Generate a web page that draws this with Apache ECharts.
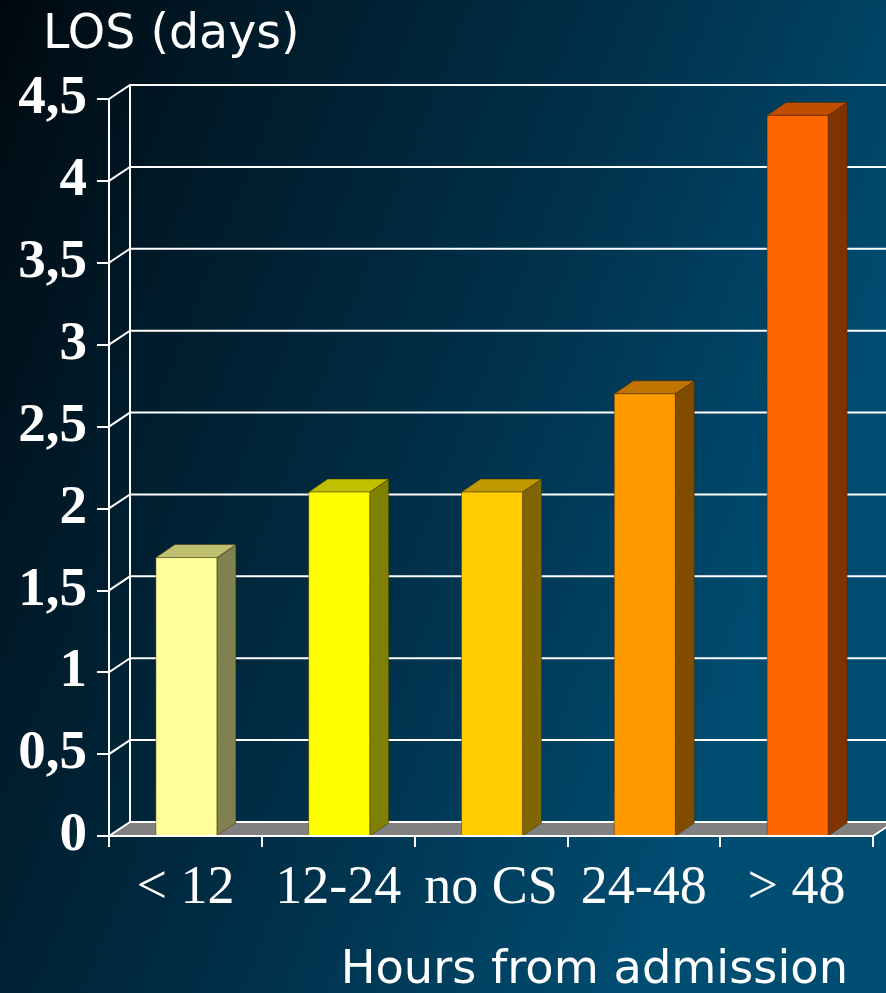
<!DOCTYPE html>
<html>
<head>
<meta charset="utf-8">
<script src="https://cdn.jsdelivr.net/npm/echarts@6/dist/echarts.min.js"></script>
<style>
html,body{margin:0;padding:0;background:#001a28;}
#chart{width:886px;height:993px;}
</style>
</head>
<body>
<div id="chart"></div>
<script>
// ---- data ----
const categories = ['< 12', '12-24', 'no CS', '24-48', '> 48'];
const losDays = [1.7, 2.1, 2.1, 2.7, 4.4];
const yTicks = [0, 0.5, 1, 1.5, 2, 2.5, 3, 3.5, 4, 4.5];
const yAxisTitle = 'LOS (days)';
const xAxisTitle = 'Hours from admission';

// ---- styles ----
const frontColors = ['#FFFF99', '#FFFF00', '#FFCC00', '#FF9900', '#FF6600'];
const topColors   = ['#C0C073', '#C0C000', '#C09900', '#C07300', '#C04D00'];
const sideColors  = ['#808050', '#808000', '#806600', '#804C00', '#803300'];
const DX = 21, DY = 14;        // wall depth
const BDX = 19, BDY = 13;      // bar depth
const BAR_W = 61;

const chart = echarts.init(document.getElementById('chart'));

const option = {
  backgroundColor: {
    type: 'linear', x: 0, y: 0, x2: 1, y2: 0.35,
    colorStops: [
      {offset: 0, color: '#00070c'},
      {offset: 0.08, color: '#000f18'},
      {offset: 0.3, color: '#001d2d'},
      {offset: 0.6, color: '#002f48'},
      {offset: 1, color: '#004d72'}
    ]
  },
  animation: false,
  title: [
    {text: yAxisTitle, left: 38, top: 7,
     textStyle: {color: '#ffffff', fontFamily: 'DejaVu Sans', fontWeight: 'normal', fontSize: 47.5}},
    {text: xAxisTitle, right: 33, top: 943,
     textStyle: {color: '#ffffff', fontFamily: 'DejaVu Sans', fontWeight: 'normal', fontSize: 46.3}}
  ],
  grid: {left: 109, right: 13, top: 99, bottom: 157, containLabel: false},
  xAxis: {
    type: 'category',
    data: categories,
    boundaryGap: true,
    axisLine: {show: true, lineStyle: {color: '#ffffff', width: 2}},
    axisTick: {show: true, length: 11, alignWithLabel: false, lineStyle: {color: '#ffffff', width: 2}},
    axisLabel: {color: '#ffffff', fontFamily: 'Liberation Serif', fontSize: 54, margin: 26, interval: 0},
    splitLine: {show: false},
    z: 5
  },
  yAxis: {
    type: 'value',
    min: 0, max: 4.5, interval: 0.5,
    axisLine: {show: true, lineStyle: {color: '#ffffff', width: 2}},
    axisTick: {show: true, length: 12, inside: false, lineStyle: {color: '#ffffff', width: 2}},
    axisLabel: {
      color: '#ffffff', fontFamily: 'Liberation Serif', fontWeight: 'bold', fontSize: 55, margin: 22,
      formatter: v => String(v).replace('.', ',')
    },
    splitLine: {show: false},
    z: 5
  },
  series: [
    {
      type: 'custom',
      z: 1,
      silent: true,
      data: yTicks.map(v => [0, v]),
      renderItem: function (params, api) {
        const cs = params.coordSys;
        const L = cs.x, R = cs.x + cs.width;
        const v = api.value(1);
        const y = api.coord([0, v])[1];
        const children = [];
        if (v === 0) {
          children.push({
            type: 'polygon',
            shape: {points: [[L, y], [L + DX, y - DY], [R + DX, y - DY], [R, y]]},
            style: {fill: '#808080', stroke: null}
          });
          children.push({
            type: 'line',
            shape: {x1: R, y1: y, x2: R + DX, y2: y - DY},
            style: {stroke: '#ffffff', lineWidth: 2}
          });
          const yt = api.coord([0, yTicks[yTicks.length - 1]])[1];
          children.push({
            type: 'line',
            shape: {x1: L + DX, y1: y - DY, x2: L + DX, y2: yt - DY},
            style: {stroke: '#ffffff', lineWidth: 2}
          });
        }
        children.push({
          type: 'polyline',
          shape: {points: [[L, y], [L + DX, y - DY], [R + DX, y - DY]]},
          style: {stroke: '#ffffff', lineWidth: 2, fill: null}
        });
        return {type: 'group', children: children};
      }
    },
    {
      type: 'custom',
      z: 3,
      data: losDays.map((v, i) => [i, v]),
      renderItem: function (params, api) {
        const i = api.value(0);
        const v = api.value(1);
        const top = api.coord([i, v]);
        const base = api.coord([i, 0]);
        const x0 = top[0] - BAR_W / 2 + 1;
        const x1 = x0 + BAR_W;
        const yt = top[1], yb = base[1];
        const edge = 'rgba(60,40,0,0.45)';
        return {
          type: 'group',
          children: [
            {type: 'polygon',
             shape: {points: [[x1, yt], [x1 + BDX, yt - BDY], [x1 + BDX, yb - BDY], [x1, yb]]},
             style: {fill: sideColors[i], stroke: edge, lineWidth: 1}},
            {type: 'polygon',
             shape: {points: [[x0, yt], [x0 + BDX, yt - BDY], [x1 + BDX, yt - BDY], [x1, yt]]},
             style: {fill: topColors[i], stroke: edge, lineWidth: 1}},
            {type: 'rect',
             shape: {x: x0, y: yt, width: BAR_W, height: yb - yt},
             style: {fill: frontColors[i], stroke: edge, lineWidth: 1}}
          ]
        };
      }
    }
  ]
};
chart.setOption(option);
</script>
</body>
</html>
